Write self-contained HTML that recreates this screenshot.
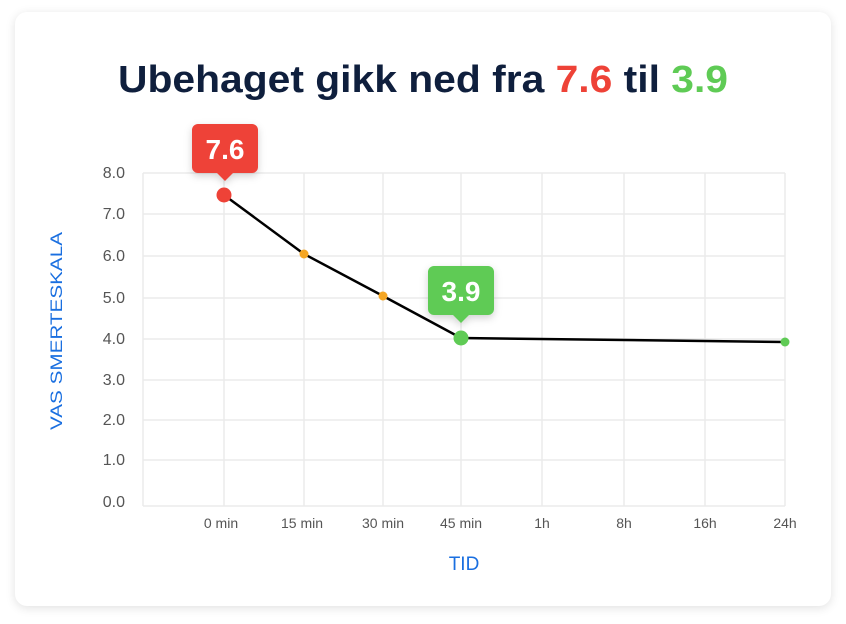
<!DOCTYPE html>
<html><head><style>
body{margin:0;width:846px;height:624px;background:#fff;font-family:"Liberation Sans",sans-serif;overflow:hidden}
.card{position:absolute;left:15px;top:12px;width:816px;height:594px;border-radius:12px;background:#fff;box-shadow:0 2px 10px rgba(0,0,0,0.12)}
</style></head><body>
<div class="card"></div>
<svg width="846" height="624" style="position:absolute;left:0;top:0" font-family="Liberation Sans, sans-serif">
<defs><filter id="sh" x="-30%" y="-30%" width="160%" height="160%"><feDropShadow dx="0" dy="3" stdDeviation="4" flood-opacity="0.18"/></filter></defs>
<text x="118" y="92" textLength="610" lengthAdjust="spacingAndGlyphs" font-size="38" font-weight="bold" fill="#0f1f3d">Ubehaget gikk ned fra <tspan fill="#ee4237">7.6</tspan> til <tspan fill="#5fcb55">3.9</tspan></text>
<g stroke="#ebebeb" stroke-width="1.5" fill="none">
<line x1="143" y1="173" x2="785" y2="173"/><line x1="143" y1="214" x2="785" y2="214"/><line x1="143" y1="256" x2="785" y2="256"/><line x1="143" y1="298" x2="785" y2="298"/><line x1="143" y1="339" x2="785" y2="339"/><line x1="143" y1="380" x2="785" y2="380"/><line x1="143" y1="420" x2="785" y2="420"/><line x1="143" y1="460" x2="785" y2="460"/><line x1="143" y1="506" x2="785" y2="506"/>
<line x1="143" y1="173" x2="143" y2="506"/><line x1="224" y1="173" x2="224" y2="506"/><line x1="304" y1="173" x2="304" y2="506"/><line x1="383" y1="173" x2="383" y2="506"/><line x1="461" y1="173" x2="461" y2="506"/><line x1="542" y1="173" x2="542" y2="506"/><line x1="624" y1="173" x2="624" y2="506"/><line x1="705" y1="173" x2="705" y2="506"/><line x1="785" y1="173" x2="785" y2="506"/>
</g>
<g font-size="16" fill="#555" text-anchor="end">
<text x="125" y="178">8.0</text><text x="125" y="219">7.0</text><text x="125" y="261">6.0</text><text x="125" y="303">5.0</text><text x="125" y="344">4.0</text><text x="125" y="385">3.0</text><text x="125" y="425">2.0</text><text x="125" y="465">1.0</text><text x="125" y="507">0.0</text>
</g>
<g font-size="14" fill="#555" text-anchor="middle">
<text x="221" y="528">0 min</text><text x="302" y="528">15 min</text><text x="383" y="528">30 min</text><text x="461" y="528">45 min</text><text x="542" y="528">1h</text><text x="624" y="528">8h</text><text x="705" y="528">16h</text><text x="785" y="528">24h</text>
</g>
<text x="464" y="570" text-anchor="middle" font-size="19" fill="#1a6fe0">TID</text>
<text transform="translate(62,331) rotate(-90)" text-anchor="middle" textLength="198" lengthAdjust="spacingAndGlyphs" font-size="17" fill="#1a6fe0">VAS SMERTESKALA</text>
<polyline points="224,195 304,254 383,296 461,338 785,342" fill="none" stroke="#000" stroke-width="2.5"/>
<circle cx="304" cy="254" r="4.5" fill="#f5a623"/><circle cx="383" cy="296" r="4.5" fill="#f5a623"/>
<circle cx="785" cy="342" r="4.5" fill="#5fcb55"/>
<circle cx="224" cy="195" r="7.5" fill="#ee4237"/><circle cx="461" cy="338" r="7.5" fill="#5fcb55"/>
<g filter="url(#sh)">
<path d="M198 124h54a6 6 0 0 1 6 6v37a6 6 0 0 1-6 6h-19l-8 8-8-8h-19a6 6 0 0 1-6-6v-37a6 6 0 0 1 6-6z" fill="#ee4237"/>
<path d="M434 266h54a6 6 0 0 1 6 6v37a6 6 0 0 1-6 6h-19l-8 8-8-8h-19a6 6 0 0 1-6-6v-37a6 6 0 0 1 6-6z" fill="#5fcb55"/>
</g>
<text x="225" y="159" text-anchor="middle" font-size="28" font-weight="bold" fill="#fff">7.6</text>
<text x="461" y="301" text-anchor="middle" font-size="28" font-weight="bold" fill="#fff">3.9</text>
</svg>
</body></html>
